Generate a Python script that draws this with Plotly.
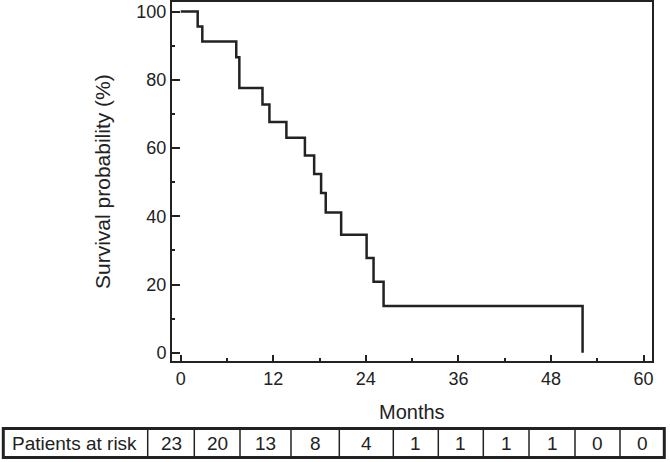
import plotly.graph_objects as go

# Kaplan-Meier steps
months = [0, 2.2, 2.8, 7.2, 7.6, 10.6, 11.5, 13.7, 16.1, 17.3, 18.2, 18.8,
          20.8, 24.1, 25.0, 26.3, 52.1]
survival = [100, 95.6, 91.2, 86.6, 77.6, 72.8, 67.6, 63.0, 57.8, 52.4, 46.8,
            41.1, 34.6, 27.8, 20.8, 13.7, 0]

x_ticks = [0, 12, 24, 36, 48, 60]
y_ticks = [0, 20, 40, 60, 80, 100]

risk_label = "Patients at risk"
at_risk = [23, 20, 13, 8, 4, 1, 1, 1, 1, 0, 0]

INK = "#222222"
FONT = "Liberation Sans, Arial, sans-serif"

W, H = 670, 462
L, R, T, B = 172, 18, 2, 101
PW, PH = W - L - R, H - T - B


def px_x(px):
    return (px - L) / PW


def px_y(py):
    return (H - B - py) / PH


fig = go.Figure()
fig.add_trace(go.Scatter(
    x=months, y=survival, mode="lines", line_shape="hv",
    line=dict(color=INK, width=2.5), hoverinfo="skip",
))

axis_common = dict(
    showline=True, mirror=True, linecolor=INK, linewidth=2,
    ticks="inside", tickcolor=INK, tickwidth=1.5,
    showgrid=False, zeroline=False, automargin=False,
    tickfont=dict(size=18, color=INK, family=FONT),
)
fig.update_xaxes(
    range=[-1.13, 61.1], tickvals=x_ticks, ticklen=6,
    minor=dict(dtick=6, tick0=0, ticks="inside", ticklen=3, tickcolor=INK),
    **axis_common,
)
fig.update_yaxes(
    range=[-2.4, 102.8], tickvals=y_ticks, ticklen=8,
    minor=dict(dtick=10, tick0=0, ticks="inside", ticklen=3, tickcolor=INK),
    **axis_common,
)

# at-risk table drawn below the axis, column edges in pixels
edges = [3.3, 147.7, 194.3, 240, 291, 339.3, 393.3, 438.3, 483.3, 529, 575, 620, 664.3]
top, bot = 428.5, 457.5
shapes = [dict(type="rect", xref="paper", yref="paper",
               x0=px_x(edges[0]), x1=px_x(edges[-1]), y0=px_y(bot), y1=px_y(top),
               line=dict(color=INK, width=3))]
for e in edges[1:-1]:
    shapes.append(dict(type="line", xref="paper", yref="paper",
                       x0=px_x(e), x1=px_x(e), y0=px_y(bot), y1=px_y(top),
                       line=dict(color=INK, width=1.5)))

cell_font = dict(size=19, color=INK, family=FONT)
mid_y = px_y((top + bot) / 2)
annotations = [
    dict(text="Survival probability (%)", xref="paper", yref="paper",
         x=px_x(102), y=px_y(182), textangle=-90, showarrow=False,
         xanchor="center", yanchor="middle", font=dict(size=21, color=INK, family=FONT)),
    dict(text="Months", xref="paper", yref="paper",
         x=px_x(412), y=px_y(412), showarrow=False,
         xanchor="center", yanchor="middle", font=dict(size=20, color=INK, family=FONT)),
    dict(text=risk_label, xref="paper", yref="paper",
         x=px_x(10), y=mid_y, xanchor="left", yanchor="middle",
         showarrow=False, font=cell_font),
]
for i, n in enumerate(at_risk):
    cx = (edges[i + 1] + edges[i + 2]) / 2
    annotations.append(dict(text=str(n), xref="paper", yref="paper",
                            x=px_x(cx), y=mid_y, xanchor="center", yanchor="middle",
                            showarrow=False, font=cell_font))

fig.update_layout(
    width=W, height=H,
    margin=dict(l=L, r=R, t=T, b=B),
    paper_bgcolor="white", plot_bgcolor="white",
    showlegend=False,
    shapes=shapes, annotations=annotations,
    font=dict(family=FONT, color=INK),
)

# the page's default body margin would push the figure 8px in
fig.write_html("out.html", config={"displayModeBar": False},
               post_script="document.body.style.margin = '0';")
